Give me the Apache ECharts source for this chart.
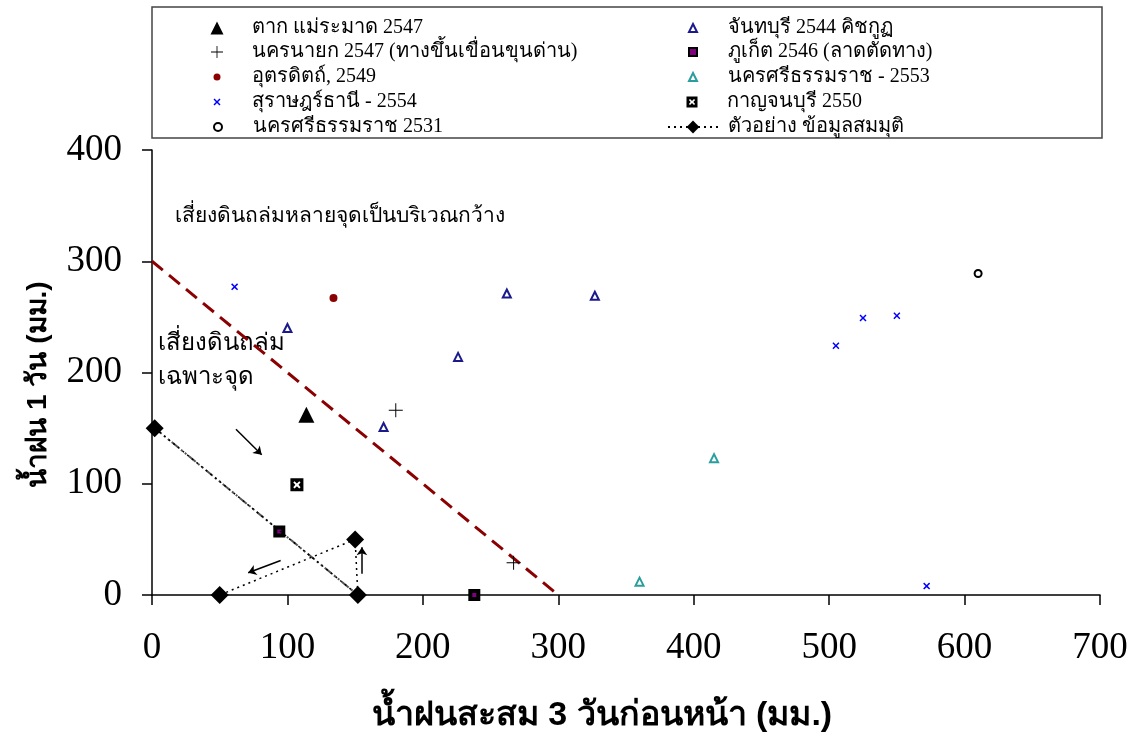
<!DOCTYPE html>
<html>
<head>
<meta charset="utf-8">
<script src="https://cdn.jsdelivr.net/npm/echarts@6/dist/echarts.min.js"></script>
<style>
  html, body { margin: 0; padding: 0; background: #fff; }
  #chart { width: 1132px; height: 735px; }
</style>
</head>
<body>
<div id="chart"></div>
<script>
// values (x: 3-day rain, y: 1-day rain, mm)
const takData = [[114, 162]];
const nakhonNayokData = [[180, 166], [267, 29]];
const uttaraditData = [[134, 267]];
const suratData = [[61, 277], [505, 224], [525, 249], [550, 251], [572, 8]];
const nakhonSi2531Data = [[610, 289]];
const chanthaburiData = [[100, 240], [171, 151], [226, 214], [262, 271], [327, 269]];
const phuketData = [[94, 57], [238, 0]];
const nakhonSi2553Data = [[360, 12], [415, 123]];
const kanchanaburiData = [[107, 99]];
const exampleData = [[2, 150], [152, 0], [150, 50], [50, 0]];
const exampleDiagonal = [[2, 150], [152, 0]];
const thresholdLine = [[0, 300], [300, 0]];
const arrowData = [
  [[62, 149], [81, 126]],
  [[95, 31], [71, 20]],
  [[155, 19], [155, 43]],
];
const xTicks = { min: 0, max: 700, interval: 100 };
const yTicks = { min: 0, max: 400, interval: 100 };

const names = [
  'ตาก แม่ระมาด 2547',
  'นครนายก 2547 (ทางขึ้นเขื่อนขุนด่าน)',
  'อุตรดิตถ์, 2549',
  'สุราษฎร์ธานี - 2554',
  'นครศรีธรรมราช 2531',
  'จันทบุรี 2544 คิชกูฏ',
  'ภูเก็ต 2546 (ลาดตัดทาง)',
  'นครศรีธรรมราช - 2553',
  'กาญจนบุรี 2550',
  'ตัวอย่าง ข้อมูลสมมุติ',
];

const plusPath = 'path://M9.3,0 H10.7 V9.3 H20 V10.7 H10.7 V20 H9.3 V10.7 H0 V9.3 H9.3 Z';
const crossPath = 'path://M0,1.5 L1.5,0 L5,3.5 L8.5,0 L10,1.5 L6.5,5 L10,8.5 L8.5,10 L5,6.5 L1.5,10 L0,8.5 L3.5,5 Z';
const boxCrossPath = 'path://M0,0 H10 V10 H0 Z M2.2,3.2 L3.8,5 L2.2,6.8 L3.2,7.8 L5,6 L6.8,7.8 L7.8,6.8 L6.2,5 L7.8,3.2 L6.8,2.2 L5,4 L3.2,2.2 Z';

const serif = "'Liberation Serif', 'Times New Roman', serif";

// legend layout: one legend box per entry so every icon keeps its own size
const legendCols = [{ cx: 212, textX: 247 }, { cx: 687, textX: 722 }];
const legendRowY = [23, 47, 72, 97, 122];
const legendIconSize = [13, 12, 7, 7, 8, 8, 8, 8, 11, [50, 16]];

function buildLegends() {
  const out = [];
  for (let i = 0; i < names.length; i += 1) {
    const col = legendCols[i < 5 ? 0 : 1];
    const row = legendRowY[i % 5];
    const size = legendIconSize[i];
    const w = Array.isArray(size) ? size[0] : size;
    const h = Array.isArray(size) ? size[1] : size;
    const left = col.cx - w / 2;
    out.push({
      orient: 'vertical',
      left,
      top: row - 11,
      itemWidth: w,
      itemHeight: h,
      selectedMode: false,
      textStyle: {
        fontFamily: serif,
        fontSize: 20,
        lineHeight: 22,
        color: '#000',
        padding: [0, 0, 0, Math.max(0, col.textX - (left + w + 5))],
      },
      data: [names[i]],
    });
  }
  return out;
}

const chart = echarts.init(document.getElementById('chart'));

const option = {
  animation: false,
  backgroundColor: '#fff',
  grid: { left: 152, right: 32, top: 150, bottom: 140, containLabel: false, outerBoundsMode: 'none' },
  legend: buildLegends(),
  graphic: [
    {
      type: 'rect',
      shape: { x: 152, y: 7, width: 950, height: 131 },
      style: { fill: 'none', stroke: '#444', lineWidth: 1.5 },
      z: 0,
    },
    {
      type: 'text',
      left: 175,
      top: 206,
      style: { text: 'เสี่ยงดินถล่มหลายจุดเป็นบริเวณกว้าง', fontSize: 21, fill: '#000', fontFamily: 'sans-serif' },
    },
    {
      type: 'text',
      left: 158,
      top: 326,
      style: { text: 'เสี่ยงดินถล่ม\nเฉพาะจุด', fontSize: 24, lineHeight: 34, fill: '#000', fontFamily: 'sans-serif' },
    },
  ],
  xAxis: {
    type: 'value',
    min: xTicks.min,
    max: xTicks.max,
    interval: xTicks.interval,
    name: 'น้ำฝนสะสม 3 วันก่อนหน้า (มม.)',
    nameLocation: 'middle',
    nameGap: 104,
    nameTextStyle: { fontSize: 34, fontWeight: 'bold', color: '#000', fontFamily: 'sans-serif', padding: [0, 48, 0, 0] },
    axisLine: { lineStyle: { color: '#000', width: 1.5 } },
    axisTick: { length: 10, lineStyle: { color: '#000', width: 1.5 } },
    axisLabel: { margin: 35, fontSize: 37, color: '#000', fontFamily: serif },
    splitLine: { show: false },
  },
  yAxis: {
    type: 'value',
    min: yTicks.min,
    max: yTicks.max,
    interval: yTicks.interval,
    name: 'น้ำฝน 1 วัน (มม.)',
    nameLocation: 'middle',
    nameGap: 100,
    nameTextStyle: { fontSize: 28, fontWeight: 'bold', color: '#000', fontFamily: 'sans-serif', padding: [0, 24, 0, 0] },
    axisLine: { lineStyle: { color: '#000', width: 1.5 } },
    axisTick: { length: 10, lineStyle: { color: '#000', width: 1.5 } },
    axisLabel: { margin: 30, fontSize: 37, color: '#000', fontFamily: serif },
    splitLine: { show: false },
  },
  series: [
    {
      name: 'threshold',
      type: 'line',
      data: thresholdLine,
      symbol: 'none',
      lineStyle: { color: '#8b0000', width: 3, type: [14, 8] },
      z: 1,
    },
    {
      name: 'diagonal',
      type: 'line',
      data: exampleDiagonal,
      symbol: 'none',
      lineStyle: { color: '#555', width: 2, type: [9, 3, 2, 3, 2, 3] },
      z: 1,
    },
    {
      name: 'arrows',
      type: 'lines',
      coordinateSystem: 'cartesian2d',
      data: arrowData.map((c) => ({ coords: c })),
      symbol: ['none', 'arrow'],
      symbolSize: 8,
      lineStyle: { color: '#000', width: 1.5, opacity: 1 },
      z: 2,
    },
    {
      name: names[0],
      type: 'scatter',
      data: takData,
      symbol: 'triangle',
      symbolSize: 16,
      itemStyle: { color: '#000', opacity: 1 },
    },
    {
      name: names[1],
      type: 'scatter',
      data: nakhonNayokData,
      symbol: plusPath,
      symbolSize: 14,
      itemStyle: { color: '#000', opacity: 1 },
    },
    {
      name: names[2],
      type: 'scatter',
      data: uttaraditData,
      symbol: 'circle',
      symbolSize: 8,
      itemStyle: { color: '#8b0000', opacity: 1 },
    },
    {
      name: names[3],
      type: 'scatter',
      data: suratData,
      symbol: crossPath,
      symbolSize: 7,
      itemStyle: { color: '#0000ff', opacity: 1 },
    },
    {
      name: names[4],
      type: 'scatter',
      data: nakhonSi2531Data,
      symbol: 'emptyCircle',
      symbolSize: 7,
      itemStyle: { color: '#000', borderWidth: 1.5, opacity: 1 },
    },
    {
      name: names[5],
      type: 'scatter',
      data: chanthaburiData,
      symbol: 'emptyTriangle',
      symbolSize: 8,
      itemStyle: { color: '#1a1a8c', borderWidth: 1.5, opacity: 1 },
    },
    {
      name: names[6],
      type: 'scatter',
      data: phuketData,
      symbol: 'rect',
      symbolSize: 8,
      itemStyle: { color: '#800080', borderColor: '#000', borderWidth: 4, opacity: 1 },
    },
    {
      name: names[7],
      type: 'scatter',
      data: nakhonSi2553Data,
      symbol: 'emptyTriangle',
      symbolSize: 8,
      itemStyle: { color: '#2a9d9d', borderWidth: 1.5, opacity: 1 },
    },
    {
      name: names[8],
      type: 'scatter',
      data: kanchanaburiData,
      symbol: boxCrossPath,
      symbolSize: 13,
      itemStyle: { color: '#000', opacity: 1 },
    },
    {
      name: names[9],
      type: 'line',
      data: exampleData,
      symbol: 'diamond',
      symbolSize: 18,
      showAllSymbol: true,
      itemStyle: { color: '#000' },
      lineStyle: { color: '#000', width: 1.5, type: [2, 4] },
      z: 3,
    },
  ],
};

chart.setOption(option);
window.addEventListener('resize', () => chart.resize());
</script>
</body>
</html>
